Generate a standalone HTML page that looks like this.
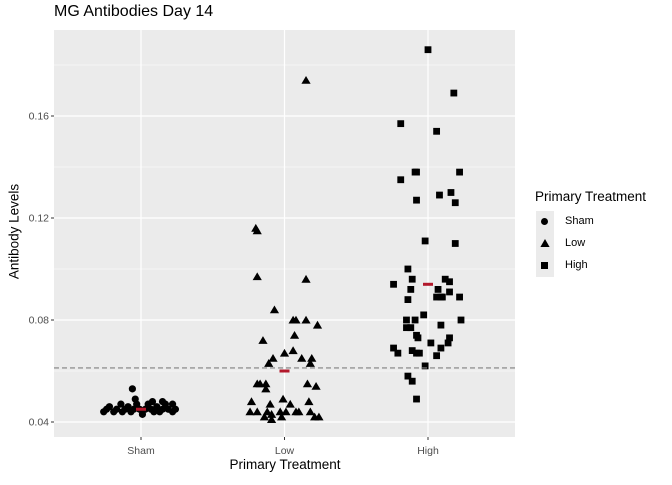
<!DOCTYPE html>
<html><head><meta charset="utf-8"><style>
body{margin:0;background:#fff;font-family:"Liberation Sans",sans-serif}
</style></head><body>
<svg id="c" width="672" height="480" xmlns="http://www.w3.org/2000/svg" font-family="Liberation Sans, sans-serif"></svg>
<script>
const categories=["Sham","Low","High"];
const yTicks=[0.04,0.08,0.12,0.16];
const yMinor=[0.06,0.10,0.14,0.18];
const shamVals=[0.053,0.044,0.045,0.046,0.044,0.045,0.047,0.044,0.045,0.046,0.044,0.045,0.047,0.045,0.043,0.045,0.047,0.045,0.044,0.046,0.044,0.045,0.047,0.045,0.044,0.045,0.049,0.048,0.048,0.047];
const shamJit=[-0.06,-0.26,-0.24,-0.22,-0.19,-0.17,-0.14,-0.13,-0.11,-0.09,-0.07,-0.05,-0.03,-0.01,0.01,0.03,0.05,0.07,0.09,0.11,0.13,0.15,0.17,0.19,0.22,0.24,-0.04,0.08,0.15,0.22];
const lowVals=[0.174,0.116,0.115,0.097,0.096,0.084,0.072,0.080,0.080,0.080,0.078,0.074,0.067,0.068,0.065,0.065,0.065,0.063,0.063,0.055,0.055,0.055,0.053,0.055,0.054,0.048,0.047,0.049,0.047,0.048,0.044,0.044,0.044,0.043,0.044,0.042,0.044,0.044,0.044,0.044,0.042,0.042,0.041,0.042];
const lowJit=[0.15,-0.20,-0.19,-0.19,0.15,-0.07,-0.15,0.06,0.08,0.15,0.23,0.07,0,0.06,-0.08,0.12,0.19,0.18,-0.11,-0.19,-0.17,-0.13,-0.13,0.16,0.22,-0.23,-0.10,-0.01,0.04,0.17,-0.24,-0.19,-0.12,-0.09,-0.03,-0.02,0.01,0.08,0.10,0.18,0.21,0.24,-0.09,-0.14];
const highVals=[0.186,0.169,0.157,0.154,0.138,0.138,0.138,0.135,0.129,0.130,0.126,0.127,0.111,0.110,0.100,0.096,0.094,0.092,0.088,0.096,0.095,0.092,0.089,0.089,0.089,0.091,0.089,0.082,0.080,0.080,0.077,0.077,0.078,0.080,0.074,0.073,0.071,0.073,0.071,0.069,0.069,0.067,0.068,0.067,0.067,0.066,0.062,0.058,0.056,0.049];
const highJit=[0,0.18,-0.19,0.06,-0.08,-0.09,0.22,-0.19,0.08,0.16,0.19,-0.08,-0.02,0.19,-0.14,-0.11,-0.24,-0.12,-0.14,0.12,0.15,0.07,0.09,0.06,0.10,0.15,0.22,-0.03,-0.15,-0.09,-0.15,-0.12,0.09,0.23,-0.08,-0.07,0.02,0.15,0.14,0.09,-0.24,-0.21,-0.11,-0.08,-0.06,0.06,-0.02,-0.14,-0.11,-0.08];
const means=[0.045,0.060,0.094];
const refLine=0.0612;
const ns="http://www.w3.org/2000/svg",svg=document.getElementById('c');
function mk(t,a,p){const e=document.createElementNS(ns,t);for(const k in a)e.setAttribute(k,a[k]);(p||svg).appendChild(e);return e;}
const L=54,R=515,T=30,B=437;
const xS=i=>141+i*143.5;
const yS=v=>422-(v-0.04)/0.04*102;
const bg=mk('rect',{x:L,y:T,width:R-L,height:B-T,fill:'#ebebeb'});


yMinor.forEach(v=>{const l=mk('line',{x1:L,x2:R,y1:yS(v),y2:yS(v),stroke:'#fff','stroke-width':0.6});

});
yTicks.forEach(v=>{const l=mk('line',{x1:L,x2:R,y1:yS(v),y2:yS(v),stroke:'#fff','stroke-width':1.2});


mk('line',{x1:L-3,x2:L,y1:yS(v),y2:yS(v),stroke:'#333'});
const t=mk('text',{x:L-5,y:yS(v)+3.5,'text-anchor':'end','font-size':'10.5',fill:'#4d4d4d'});t.textContent=v.toFixed(2);

});
categories.forEach((c,i)=>{const l=mk('line',{x1:xS(i),x2:xS(i),y1:T,y2:B,stroke:'#fff','stroke-width':1.2});


mk('line',{x1:xS(i),x2:xS(i),y1:B,y2:B+3,stroke:'#333'});
const t=mk('text',{x:xS(i),y:454,'text-anchor':'middle','font-size':'10.5',fill:'#4d4d4d'});t.textContent=c;

});
function shape(kind,x,y,p){let e;
 if(kind==0)e=mk('circle',{cx:x,cy:y,r:3.6,fill:'#000'},p);
 else if(kind==1)e=mk('polygon',{points:`${x},${y-4.3} ${x-4.6},${y+3.5} ${x+4.6},${y+3.5}`,fill:'#000'},p);
 else e=mk('rect',{x:x-3.4,y:y-3.4,width:6.8,height:6.8,fill:'#000'},p);
 return e;}
[[shamVals,shamJit],[lowVals,lowJit],[highVals,highJit]].forEach(([vals,jit],i)=>{
 vals.forEach((v,k)=>{const e=shape(i,xS(i+jit[k]),yS(v));
 
 });});
means.forEach((m,i)=>{const e=mk('line',{x1:xS(i)-5,x2:xS(i)+5,y1:yS(m),y2:yS(m),stroke:'#b2182b','stroke-width':3});

});
const rl=mk('line',{x1:L,x2:R,y1:yS(refLine),y2:yS(refLine),stroke:'#7f7f7f','stroke-width':1.2,'stroke-dasharray':'5,3'});


</script>
<div style="position:absolute;left:54px;top:3px;font-size:16px;color:#000">MG Antibodies Day 14</div>
<div style="position:absolute;left:185px;width:200px;text-align:center;top:457px;font-size:13.5px">Primary Treatment</div>
<div style="position:absolute;left:-46px;top:224px;width:120px;text-align:center;font-size:13.5px;transform:rotate(-90deg)">Antibody Levels</div>
<div style="position:absolute;left:535px;top:189px;font-size:13.5px">
<div>Primary Treatment</div>
<div style="position:absolute;top:22px;left:0;width:200px;height:22px"><span style="position:absolute;left:1px;top:0;width:18px;height:22px;background:#ebebeb"></span><span style="position:absolute;left:6px;top:7px;width:7px;height:7px;border-radius:50%;background:#000"></span><span style="position:absolute;left:30px;top:4px;font-size:11px">Sham</span></div>
<div style="position:absolute;top:44px;left:0;width:200px;height:22px"><span style="position:absolute;left:1px;top:0;width:18px;height:22px;background:#ebebeb"></span><svg style="position:absolute;left:5px;top:6px" width="10" height="9"><polygon points="5,0 0.4,8 9.6,8" fill="#000"/></svg><span style="position:absolute;left:30px;top:4px;font-size:11px">Low</span></div>
<div style="position:absolute;top:66px;left:0;width:200px;height:22px"><span style="position:absolute;left:1px;top:0;width:18px;height:22px;background:#ebebeb"></span><span style="position:absolute;left:6px;top:7px;width:7px;height:7px;background:#000"></span><span style="position:absolute;left:30px;top:4px;font-size:11px">High</span></div>
</div>
</body></html>
